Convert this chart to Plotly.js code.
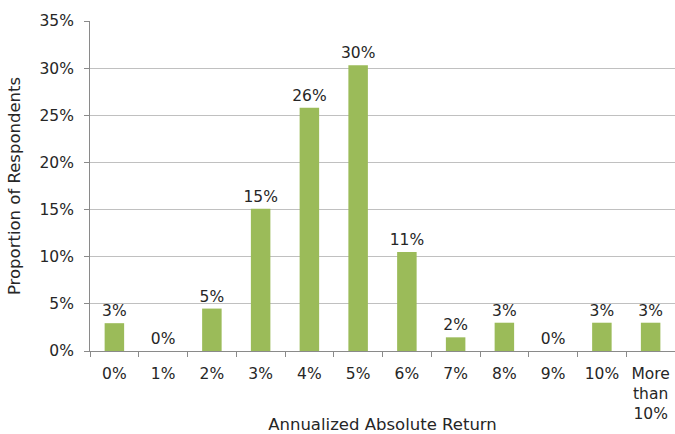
<!DOCTYPE html>
<html><head><meta charset="utf-8">
<script src="https://cdn.plot.ly/plotly-3.0.1.min.js"></script>
<style>body{margin:0;padding:0;background:#fff}#chart{width:675px;height:434px}</style>
</head><body><div id="chart"></div>
<script>
const categories = ["0%","1%","2%","3%","4%","5%","6%","7%","8%","9%","10%","More<br>than<br>10%"];
const values = [2.95, 0, 4.5, 15.1, 25.8, 30.3, 10.5, 1.45, 3.0, 0, 3.0, 3.0];
const labels = ["3%","0%","5%","15%","26%","30%","11%","2%","3%","0%","3%","3%"];
const yTicks = [0,5,10,15,20,25,30,35];
const yTickText = ["0%","5%","10%","15%","20%","25%","30%","35%"];

const fontFam = "DejaVu Sans, sans-serif";
Plotly.newPlot("chart", [{
  type: "bar",
  x: categories,
  y: values,
  text: labels,
  textposition: "outside",
  constraintext: "none",
  cliponaxis: false,
  textfont: {family: fontFam, size: 15.5, color: "#262626"},
  marker: {color: "#9BBB59"},
  hoverinfo: "skip"
}], {
  width: 675, height: 434,
  margin: {l: 90, r: 0, t: 21, b: 83},
  bargap: 0.6,
  paper_bgcolor: "#fff", plot_bgcolor: "#fff",
  font: {family: fontFam, size: 15.5, color: "#262626"},
  showlegend: false,
  xaxis: {
    type: "category",
    showline: true, linecolor: "#8a8a8a", linewidth: 1,
    ticks: "outside", ticklen: 5, tickcolor: "#8a8a8a",
    tickson: "boundaries",
    ticklabelstandoff: 8,
    showgrid: false,
    tickfont: {family: fontFam, size: 15.5, color: "#262626"},
    title: {text: "Annualized Absolute Return", font: {family: fontFam, size: 16.5, color: "#262626"}, standoff: 16},
    automargin: false
  },
  yaxis: {
    range: [0, 35],
    tickvals: yTicks, ticktext: yTickText,
    showline: true, linecolor: "#8a8a8a", linewidth: 1,
    showgrid: true, gridcolor: "#c0c0c0", gridwidth: 1,
    zeroline: false,
    ticks: "outside", ticklen: 5, tickcolor: "#8a8a8a",
    ticklabelstandoff: 7,
    tickfont: {family: fontFam, size: 15.5, color: "#262626"},
    title: {text: "Proportion of Respondents", font: {family: fontFam, size: 16.5, color: "#262626"}, standoff: 14},
    automargin: false
  }
}, {staticPlot: true, displayModeBar: false});
</script>
</body></html>
